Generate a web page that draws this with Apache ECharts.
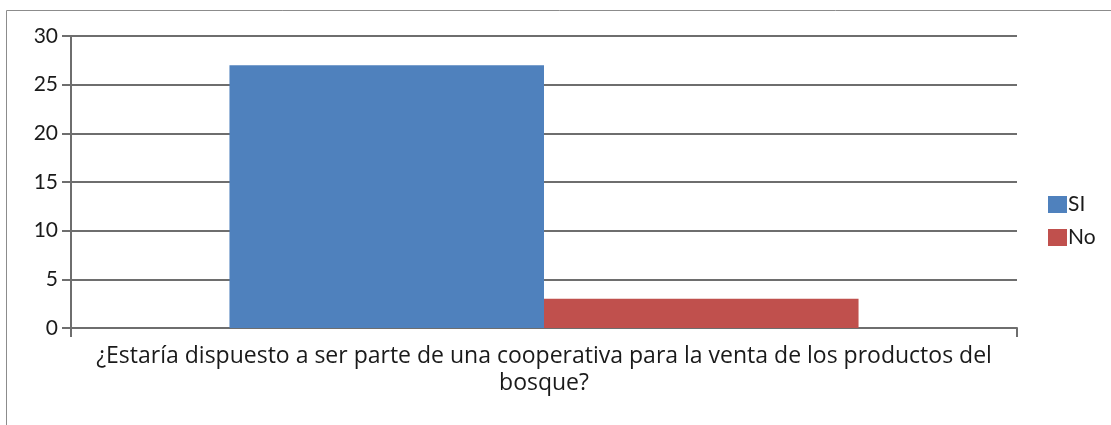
<!DOCTYPE html>
<html>
<head>
<meta charset="utf-8">
<script src="https://cdn.jsdelivr.net/npm/echarts@6/dist/echarts.min.js"></script>
<style>
  html, body { margin: 0; padding: 0; background: #fff; }
  #chart { width: 1111px; height: 425px; }
</style>
</head>
<body>
<div id="chart"></div>
<script>
// datos
var categories = ['¿Estaría dispuesto a ser parte de una cooperativa para la venta de los productos del\nbosque?'];
var siValues = [27];
var noValues = [3];
var yTicks = [0, 5, 10, 15, 20, 25, 30];

var chart = echarts.init(document.getElementById('chart'));
var font = 'Lato, "Open Sans", sans-serif';

chart.setOption({
    animation: false,
    textStyle: { fontFamily: font },
    graphic: [{
        type: 'rect',
        shape: { x: 6.5, y: 10.5, width: 1120, height: 430 },
        style: { fill: 'none', stroke: '#8c8c8c', lineWidth: 1 }
    }],
    grid: { left: 71, right: 94, top: 36, bottom: 97 },
    legend: {
        orient: 'vertical',
        left: 1043,
        top: 189,
        itemWidth: 19,
        itemHeight: 17,
        itemGap: 12,
        icon: 'rect',
        textStyle: { fontSize: 21, color: '#1a1a1a', fontFamily: font, padding: [0, 0, 0, -4] },
        data: ['SI', 'No']
    },
    xAxis: {
        type: 'category',
        data: categories,
        axisLine: { lineStyle: { color: '#6e6e6e', width: 2 } },
        axisTick: { show: true, alignWithLabel: false, length: 9, lineStyle: { color: '#6e6e6e', width: 2 } },
        axisLabel: { fontSize: 23, color: '#1a1a1a', lineHeight: 27, margin: 15, fontFamily: '"Open Sans", sans-serif' }
    },
    yAxis: {
        type: 'value',
        min: yTicks[0],
        max: yTicks[yTicks.length - 1],
        interval: 5,
        axisLine: { show: true, lineStyle: { color: '#6e6e6e', width: 2 } },
        axisTick: { show: true, length: 9, lineStyle: { color: '#6e6e6e', width: 2 } },
        axisLabel: { fontSize: 21, color: '#1a1a1a', margin: 13, fontFamily: font },
        splitLine: { lineStyle: { color: '#6e6e6e', width: 2 } }
    },
    series: [{
        name: 'SI',
        type: 'bar',
        data: siValues,
        barGap: '0%',
        barCategoryGap: '33.5%',
        itemStyle: { color: '#4f81bd' }
    }, {
        name: 'No',
        type: 'bar',
        data: noValues,
        itemStyle: { color: '#c0504d' }
    }]
});
</script>
</body>
</html>
